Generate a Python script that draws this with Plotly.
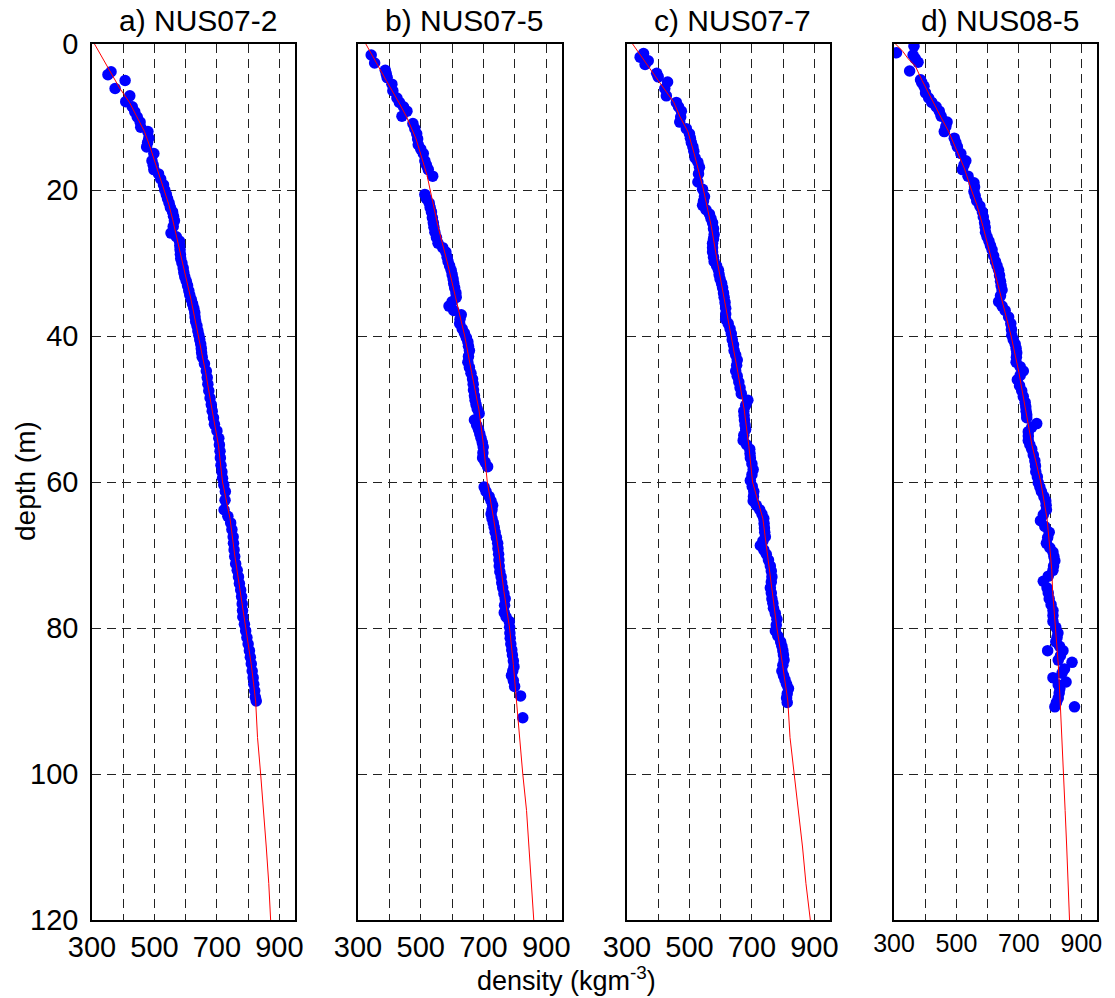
import plotly.graph_objects as go

W, H = 1115, 998
FONT = "Liberation Sans, Arial, Helvetica, sans-serif"

titles = ["a) NUS07-2", "b) NUS07-5", "c) NUS07-7", "d) NUS08-5"]
xtick_vals = [300, 500, 700, 900]
xtick_text = ["300", "500", "700", "900"]
xminor_vals = [400, 600, 800]
ytick_vals = [0, 20, 40, 60, 80, 100, 120]
ytick_text = ["0", "20", "40", "60", "80", "100", "120"]

# ---- NUS07-2 ----
a_depth = [3.8, 4.2, 5.0, 6.1, 7.1, 7.9, 8.6, 9.3, 10.0, 10.7, 11.4, 12.0, 12.9, 13.5, 14.1, 15.0, 16.0, 16.6, 17.2, 17.8,
           18.5, 19.3, 20.0, 20.6, 21.2, 21.8, 22.4, 23.0, 23.6, 24.2, 25.0, 25.9, 26.4, 27.0, 27.6, 28.2, 28.8, 29.4, 30.0, 30.7,
           31.3, 31.9, 32.5, 33.1, 33.8, 34.4, 35.0, 35.6, 36.2, 36.8, 37.4, 38.0, 38.6, 39.3, 39.9, 40.5, 41.1, 41.7, 42.3, 42.9,
           43.8, 44.8, 45.7, 46.6, 47.5, 48.5, 49.4, 50.3, 51.2, 52.1, 53.0, 54.0, 54.9, 55.8, 56.7, 57.7, 58.6, 59.5, 60.4, 61.3,
           62.5, 63.8, 64.7, 65.6, 66.5, 67.5, 68.4, 69.3, 70.2, 71.2, 72.1, 73.0, 73.9, 74.8, 75.7, 76.7, 77.6, 78.5, 79.5, 80.4,
           81.3, 82.2, 83.1, 84.0, 84.9, 85.9, 86.8, 87.7, 88.6, 89.5, 90.0]
a_dens = [361, 351, 406, 374, 421, 408, 429, 437, 445, 454, 456, 479, 482, 478, 475, 498, 492, 496, 498, 513,
          520, 529, 533, 538, 542, 547, 551, 558, 561, 564, 560, 553, 570, 580, 581, 582, 583, 584, 588, 592,
          594, 597, 602, 606, 610, 613, 618, 622, 626, 629, 630, 632, 636, 639, 642, 645, 648, 650, 651, 653,
          660, 666, 669, 671, 674, 678, 682, 685, 689, 692, 700, 706, 708, 710, 711, 713, 716, 718, 722, 727,
          726, 723, 735, 744, 748, 752, 753, 755, 757, 760, 765, 769, 772, 776, 779, 781, 782, 783, 788, 792,
          796, 800, 804, 807, 810, 813, 816, 818, 821, 823, 826]
a_fit_depth = [0, 2, 4, 6, 8, 10, 12, 14, 16, 18, 20, 22, 24, 26, 28, 30, 35, 40, 45, 50, 55, 60, 65, 70, 75, 80, 85, 90,
               95, 100, 105, 110, 115, 120]
a_fit_dens = [308, 335, 360, 388, 420, 445, 468, 485, 500, 515, 532, 546, 558, 568, 580, 590, 617, 640, 664, 684, 705,
              718, 742, 757, 775, 792, 810, 824, 830, 840, 850, 858, 866, 872]

# ---- NUS07-5 ----
b_depth = [1.5, 2.6, 3.6, 4.1, 4.6, 5.5, 6.4, 7.4, 8.0, 8.6, 9.2, 9.9, 10.9, 11.6, 12.3, 13.0, 13.8, 14.4, 15.0, 16.0,
           16.6, 17.2, 18.1, 20.6, 21.2, 21.8, 22.4, 23.0, 23.8, 24.5, 25.1, 25.8, 26.5, 27.3, 27.9, 28.5, 29.2, 29.8, 30.4, 31.0,
           31.6, 32.2, 32.8, 33.4, 34.1, 34.7, 35.3, 35.9, 36.5, 37.1, 37.7, 38.3, 39.0, 39.6, 40.2, 40.8, 41.4, 42.0, 42.8, 43.6,
           44.3, 45.1, 45.9, 46.6, 47.4, 48.2, 48.8, 49.4, 50.0, 50.6, 51.5, 52.2, 52.8, 53.4, 54.0, 54.6, 55.2, 56.0, 56.7, 57.3,
           57.9, 60.7, 61.3, 62.0, 62.6, 63.2, 63.8, 64.4, 65.0, 65.6, 66.2, 66.9, 67.6, 68.4, 69.1, 69.9, 70.7, 71.5, 72.3, 73.0,
           73.8, 74.5, 75.3, 76.0, 76.9, 77.9, 78.5, 79.1, 79.9, 80.7, 81.4, 82.2, 83.0, 83.7, 84.5, 85.3, 85.9, 86.5, 87.2, 88.0,
           89.3, 92.3]
b_dens = [342, 353, 387, 390, 393, 408, 411, 424, 432, 445, 456, 440, 475, 481, 487, 490, 492, 500, 508, 513,
          518, 524, 538, 513, 518, 527, 530, 534, 537, 540, 542, 545, 550, 555, 570, 580, 584, 587, 592, 597,
          600, 603, 605, 608, 612, 613, 600, 590, 605, 629, 625, 624, 632, 639, 645, 650, 652, 655, 652, 650,
          655, 660, 665, 667, 668, 671, 673, 676, 680, 686, 671, 678, 684, 688, 692, 696, 699, 698, 697, 705,
          713, 702, 708, 718, 724, 729, 727, 724, 727, 731, 734, 737, 741, 745, 746, 748, 749, 750, 752, 756,
          758, 761, 765, 769, 767, 766, 772, 782, 783, 784, 785, 787, 790, 792, 795, 797, 793, 789, 795, 799,
          818, 825]
b_fit_depth = [0, 2, 5, 8, 10, 13, 15, 18, 20, 25, 30, 35, 40, 45, 50, 55, 60, 65, 70, 75, 80, 85, 90, 95, 100, 105,
               110, 115, 120]
b_fit_dens = [325, 350, 390, 430, 455, 485, 500, 520, 530, 555, 585, 612, 640, 662, 685, 700, 712, 732, 750, 765, 783,
              795, 805, 813, 825, 837, 845, 852, 860]

# ---- NUS07-7 ----
c_depth = [1.3, 1.8, 2.3, 2.8, 4.0, 4.5, 5.2, 6.1, 7.1, 8.0, 8.6, 9.2, 10.0, 10.7, 11.6, 12.3, 12.9, 13.5, 14.1, 14.7,
           15.6, 16.2, 16.9, 17.8, 18.9, 19.9, 20.9, 21.5, 22.1, 22.7, 23.3, 23.9, 24.5, 25.3, 26.1, 26.7, 27.3, 27.9, 28.5, 29.2,
           29.8, 30.4, 31.0, 31.6, 32.2, 32.8, 33.4, 34.1, 34.7, 35.4, 36.2, 37.0, 37.7, 38.3, 39.0, 39.7, 40.5, 41.2, 42.0, 42.6,
           43.3, 44.0, 44.8, 45.5, 46.3, 47.1, 47.9, 48.8, 49.5, 50.3, 50.9, 51.5, 52.2, 52.8, 53.6, 54.3, 54.9, 55.5, 56.1, 56.7,
           57.5, 58.3, 59.0, 59.8, 60.6, 61.3, 62.0, 62.6, 63.2, 63.8, 64.4, 65.0, 65.7, 66.3, 66.9, 67.5, 68.1, 68.7, 69.3, 69.9,
           70.7, 71.5, 72.2, 73.0, 73.7, 74.5, 75.2, 76.0, 76.6, 77.3, 78.0, 78.8, 79.6, 80.4, 81.1, 81.9, 82.5, 83.1, 83.7, 84.4,
           85.1, 85.9, 86.5, 87.1, 87.7, 88.3, 89.0, 89.6, 90.2]
c_dens = [353, 342, 368, 358, 395, 400, 430, 421, 426, 458, 465, 474, 472, 469, 490, 500, 503, 506, 511, 514,
          518, 527, 532, 529, 527, 542, 548, 545, 542, 553, 564, 569, 574, 577, 579, 577, 574, 574, 574, 577,
          579, 587, 593, 595, 598, 603, 606, 609, 611, 614, 616, 616, 616, 624, 630, 634, 637, 641, 643, 648,
          653, 651, 648, 653, 658, 662, 666, 687, 680, 674, 675, 676, 678, 680, 674, 672, 683, 693, 694, 695,
          700, 704, 700, 695, 701, 706, 705, 704, 714, 725, 732, 738, 739, 740, 741, 743, 735, 727, 738, 746,
          753, 759, 762, 764, 762, 759, 762, 764, 767, 769, 775, 780, 778, 775, 783, 792, 796, 799, 801, 803,
          799, 796, 801, 806, 811, 817, 813, 811, 813]
c_fit_depth = [0, 2, 5, 8, 10, 12, 15, 20, 25, 30, 35, 40, 45, 50, 55, 60, 65, 70, 75, 80, 85, 90, 95, 100, 105, 110,
               115, 120]
c_fit_dens = [318, 350, 400, 450, 470, 495, 515, 545, 570, 590, 612, 634, 655, 675, 690, 702, 735, 750, 765, 780, 798,
              815, 822, 835, 850, 862, 873, 887]

# ---- NUS08-5 ----
d_depth = [0.3, 1.2, 1.5, 2.0, 2.5, 3.7, 4.9, 5.3, 5.8, 6.7, 7.4, 8.0, 8.6, 9.2, 9.9, 10.7, 11.3, 12.0, 12.9, 13.5,
           14.1, 15.0, 16.0, 16.6, 17.2, 18.1, 19.0, 19.6, 20.2, 20.8, 21.5, 22.2, 23.0, 23.7, 24.5, 25.1, 25.8, 26.4, 27.0, 27.6,
           28.2, 29.0, 29.8, 30.4, 31.0, 31.7, 32.5, 33.1, 33.7, 34.5, 35.3, 35.9, 36.5, 37.4, 38.3, 39.1, 39.9, 40.5, 41.1, 41.7,
           42.3, 42.9, 43.6, 44.2, 44.8, 45.4, 46.0, 46.8, 47.5, 48.3, 49.1, 49.7, 50.3, 50.8, 51.2, 52.0, 52.5, 53.1, 53.7, 54.3,
           54.9, 55.5, 56.3, 57.1, 57.8, 58.6, 59.3, 60.1, 60.7, 61.3, 62.0, 62.6, 63.2, 63.8, 64.5, 65.3, 66.1, 66.9, 67.6, 68.4,
           69.0, 69.6, 70.2, 70.8, 71.5, 72.1, 72.9, 73.6, 74.5, 75.2, 76.0, 76.8, 77.6, 78.3, 79.1, 79.9, 80.7, 81.3, 81.9, 82.5,
           83.1, 83.1, 83.8, 84.4, 84.7, 85.6, 86.2, 86.8, 87.4, 87.8, 88.3, 88.9, 89.6, 90.2, 90.8, 90.8]
d_dens = [364, 308, 361, 368, 377, 350, 385, 389, 396, 401, 411, 421, 435, 445, 451, 470, 466, 461, 493, 498,
          503, 514, 530, 524, 519, 537, 556, 558, 556, 560, 565, 575, 583, 586, 590, 592, 593, 598, 604, 609,
          614, 619, 625, 630, 635, 638, 641, 643, 646, 641, 635, 646, 656, 667, 674, 676, 677, 682, 688, 691,
          693, 692, 691, 704, 714, 704, 695, 702, 709, 714, 720, 722, 723, 725, 725, 757, 741, 730, 730, 730,
          735, 741, 746, 751, 753, 754, 759, 762, 767, 772, 780, 786, 787, 788, 778, 769, 783, 797, 792, 788,
          799, 809, 812, 815, 811, 809, 794, 778, 790, 794, 797, 803, 809, 809, 809, 818, 825, 822, 818, 830,
          841, 792, 833, 826, 870, 846, 838, 809, 851, 826, 831, 829, 826, 820, 815, 878]
d_fit_depth = [0, 0.5, 1, 2, 3, 5, 8, 10, 12, 15, 17, 20, 22, 25, 30, 35, 40, 45, 50, 55, 60, 65, 70, 72, 75, 80, 85,
               90, 95, 100, 105, 110, 115, 120]
d_fit_dens = [305, 318, 328, 345, 368, 390, 425, 450, 475, 505, 525, 548, 565, 585, 615, 643, 675, 700, 722, 742, 770,
              790, 801, 805, 808, 818, 826, 832, 838, 843, 848, 853, 858, 862]

panels = [
    (a_depth, a_dens, a_fit_depth, a_fit_dens),
    (b_depth, b_dens, b_fit_depth, b_fit_dens),
    (c_depth, c_dens, c_fit_depth, c_fit_dens),
    (d_depth, d_dens, d_fit_depth, d_fit_dens),
]

# layout geometry (pixels)
x_left = [92, 358, 627, 894]
x_right = [295, 562, 830, 1097]
y_top, y_bot = 44, 920

fig = go.Figure()
for i, (dep, den, fdep, fden) in enumerate(panels):
    sfx = "" if i == 0 else str(i + 1)
    fig.add_trace(go.Scatter(x=den, y=dep, mode="markers",
                             marker=dict(color="#0000FF", size=11.5, line=dict(width=0)),
                             xaxis="x" + sfx, yaxis="y" + sfx, showlegend=False, hoverinfo="skip"))
    fig.add_trace(go.Scatter(x=fden, y=fdep, mode="lines",
                             line=dict(color="#FF0000", width=1),
                             xaxis="x" + sfx, yaxis="y" + sfx, showlegend=False, hoverinfo="skip"))

GRID = dict(showgrid=True, gridcolor="#222222", gridwidth=1, griddash="9px,6px")
grid_style = dict(showline=True, linecolor="black", linewidth=1.5, mirror=True,
                  zeroline=False, ticks="", automargin=False, **GRID)

layout = dict(width=W, height=H, margin=dict(l=0, r=0, t=0, b=0),
              paper_bgcolor="white", plot_bgcolor="white",
              font=dict(family=FONT, color="black"), showlegend=False)

annotations = []
for i in range(4):
    sfx = "" if i == 0 else str(i + 1)
    xa = dict(grid_style)
    xa.update(domain=[x_left[i] / W, x_right[i] / W], range=[300, 950],
              tickmode="array", tickvals=xtick_vals, ticktext=xtick_text,
              minor=dict(tickmode="array", tickvals=xminor_vals, ticks="", **GRID),
              tickfont=dict(size=25 if i == 3 else 29, family=FONT, color="black"),
              anchor="y" + sfx, ticklabelstandoff=0)
    ya = dict(grid_style)
    ya.update(domain=[1 - y_bot / H, 1 - y_top / H], range=[120, 0],
              tickmode="array", tickvals=ytick_vals, ticktext=ytick_text,
              showticklabels=(i == 0),
              tickfont=dict(size=29, family=FONT, color="black"),
              anchor="x" + sfx, ticklabelstandoff=6)
    layout["xaxis" + sfx] = xa
    layout["yaxis" + sfx] = ya
    annotations.append(dict(text=titles[i], xref="paper", yref="paper",
                            x=((x_left[i] + x_right[i]) / 2 + 4) / W, y=1 - 20 / H,
                            xanchor="center", yanchor="middle", showarrow=False,
                            font=dict(size=30, family=FONT, color="black")))

annotations.append(dict(text="depth (m)", xref="paper", yref="paper",
                        x=25 / W, y=1 - 481 / H, textangle=-90,
                        xanchor="center", yanchor="middle", showarrow=False,
                        font=dict(size=28, family=FONT, color="black")))
annotations.append(dict(text="density (kgm<sup>-3</sup>)", xref="paper", yref="paper",
                        x=566 / W, y=1 - 979 / H,
                        xanchor="center", yanchor="middle", showarrow=False,
                        font=dict(size=27, family=FONT, color="black")))
layout["annotations"] = annotations

fig.update_layout(**layout)
fig.write_html("out.html")
